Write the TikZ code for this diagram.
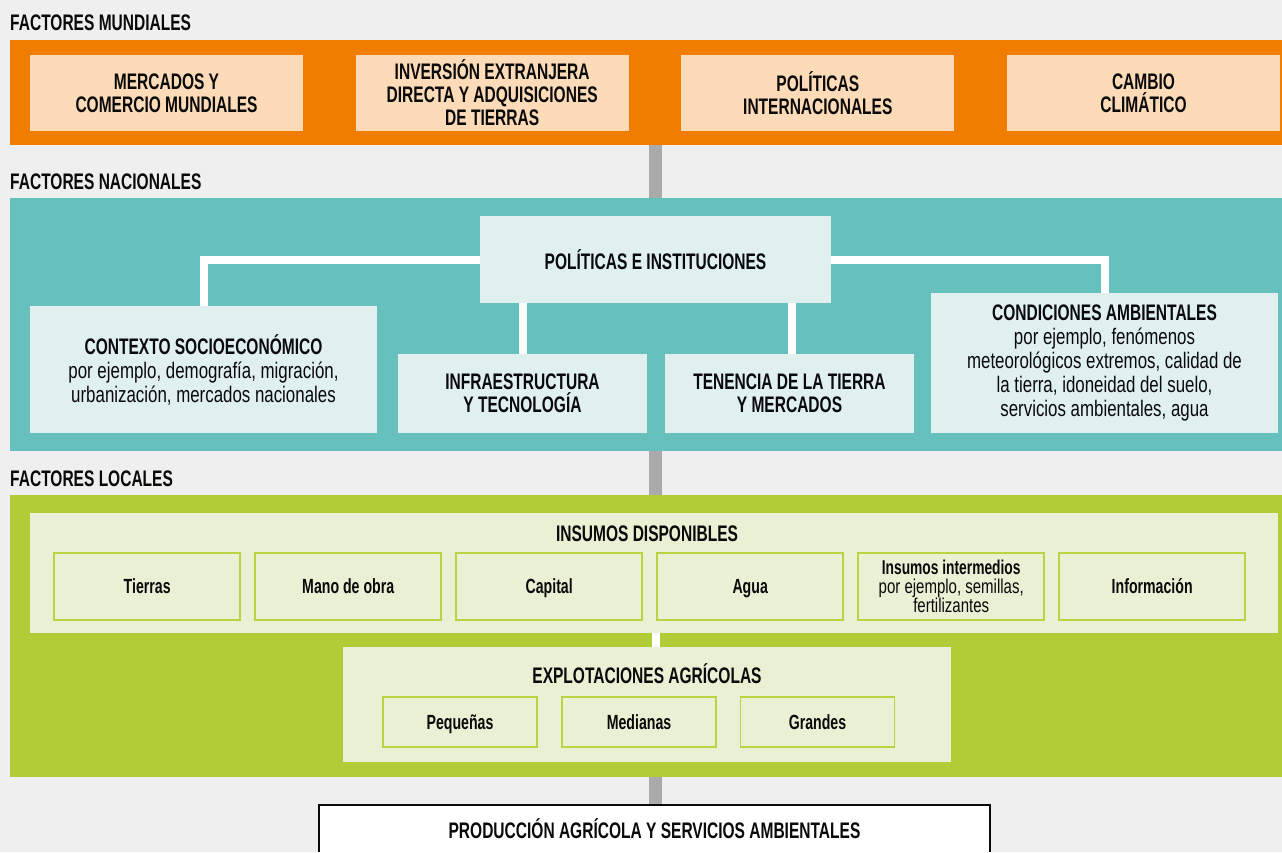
\documentclass[tikz,border=0pt]{standalone}
\usepackage{fontspec}
\setmainfont{Liberation Sans}[FakeStretch=0.69]
\newfontfamily\bodyfont{Liberation Sans}[FakeStretch=0.75]
\usepackage{xcolor}
\usepackage{tikz}
\usetikzlibrary{calc, positioning}
\pgfdeclarelayer{background}
\pgfsetlayers{background,main}

\definecolor{paper}{HTML}{EFEFEF}
\definecolor{naranja}{HTML}{F07D00}
\definecolor{naranjaclaro}{HTML}{FDDBB8}
\definecolor{turquesa}{HTML}{66C0BE}
\definecolor{turquesaclaro}{HTML}{E0F0EF}
\definecolor{verde}{HTML}{B0CD37}
\definecolor{verdeclaro}{HTML}{EAF0D4}
\definecolor{verdeborde}{HTML}{B7D442}
\definecolor{gris}{HTML}{AAAAAA}
\definecolor{tinta}{HTML}{0A0A0A}

\newcommand{\cabfont}{\fontsize{22.5}{23}\selectfont\rmfamily\bfseries}
\newcommand{\cuerpofont}{\fontsize{22.5}{24}\selectfont\bodyfont}
\newcommand{\chicafont}{\fontsize{20.5}{19}\selectfont\rmfamily\bfseries}
\newcommand{\chicacuerpo}{\fontsize{20}{19}\selectfont\bodyfont}

\tikzstyle{franja}   = [rectangle, inner sep=0pt, minimum width=1272pt]
\tikzstyle{etiqueta} = [inner sep=0pt, anchor=base west, text=tinta, font=\cabfont]
\tikzstyle{mundial}  = [rectangle, inner sep=0pt, minimum width=273pt, minimum height=76pt, align=center, fill=naranjaclaro, text=tinta, font=\cabfont]
\tikzstyle{nacional} = [rectangle, inner sep=0pt, align=center, fill=turquesaclaro, text=tinta, font=\cabfont]
\tikzstyle{panel}    = [rectangle, inner sep=0pt, fill=verdeclaro]
\tikzstyle{titulo}   = [inner sep=0pt, text=tinta, font=\cabfont]
\tikzstyle{insumo}   = [rectangle, inner sep=0pt, minimum width=186pt, minimum height=67pt, align=center, draw=verdeborde, line width=1.5pt, fill=verdeclaro, text=tinta, font=\chicafont]
\tikzstyle{unalinea} = [text height=14.7pt, text depth=0pt]
\tikzstyle{finca}    = [insumo, unalinea, minimum width=154pt, minimum height=50pt]
\tikzstyle{conector} = [draw=gris, line width=13pt]
\tikzstyle{enlace}   = [draw=white, line width=8pt]

\begin{document}
\begin{tikzpicture}[x=1pt, y=-1pt]
    \useasboundingbox (0,0) rectangle (1282,852);

    % franjas de fondo
    \node (mund) [franja, fill=naranja,  minimum height=105pt] at (646,92.5) {};
    \node (nac)  [franja, fill=turquesa, minimum height=253pt] at (646,324.5) {};
    \node (loc)  [franja, fill=verde,    minimum height=282pt] at (646,636) {};

    \node (lmund) [etiqueta] at (10,30.5) {FACTORES MUNDIALES};
    \node (lnac)  [etiqueta] at (10,189) {FACTORES NACIONALES};
    \node (lloc)  [etiqueta] at (10,486) {FACTORES LOCALES};

    % factores mundiales
    \node (merc) [mundial] at (166.5,93) {MERCADOS Y\\COMERCIO MUNDIALES};
    \node (inv)  [mundial] at (492.2,93) {INVERSIÓN EXTRANJERA\\DIRECTA Y ADQUISICIONES\\DE TIERRAS};
    \node (polint) [mundial] at (817.8,93) {POLÍTICAS\\INTERNACIONALES};
    \node (clima) [mundial] at (1143.5,93) {CAMBIO\\CLIMÁTICO};

    % factores nacionales
    \node (pol)   [nacional, minimum width=351pt, minimum height=87pt] at (655.5,259.5) {POLÍTICAS E INSTITUCIONES};
    \node (ctx)   [nacional, minimum width=347pt, minimum height=127pt, font=\cuerpofont] at (203.5,369.5)
        {{\rmfamily\bfseries CONTEXTO SOCIOECONÓMICO}\\por ejemplo, demografía, migración,\\urbanización, mercados nacionales};
    \node (infra) [nacional, minimum width=249pt, minimum height=79pt] at (522.5,393.5) {INFRAESTRUCTURA\\Y TECNOLOGÍA};
    \node (ten)   [nacional, minimum width=249pt, minimum height=79pt] at (789.5,393.5) {TENENCIA DE LA TIERRA\\Y MERCADOS};
    \node (amb)   [nacional, minimum width=347pt, minimum height=140pt, font=\cuerpofont] at (1104.5,363)
        {{\rmfamily\bfseries CONDICIONES AMBIENTALES}\\por ejemplo, fenómenos\\meteorológicos extremos, calidad de\\la tierra, idoneidad del suelo,\\servicios ambientales, agua};

    \draw [enlace] (ctx.north) |- (pol.west);
    \draw [enlace] (pol.east) -| (amb.north);
    \draw [enlace] (infra.north) -- (infra.north |- pol.south);
    \draw [enlace] (ten.north |- pol.south) ++(2.5,0) -- ++(0,51);

    % factores locales
    \node (ins)  [panel, minimum width=1248pt, minimum height=120pt] at (654,573) {};
    \node (insT) [titulo] at (647,534) {INSUMOS DISPONIBLES};
    \node (tie)  [insumo, unalinea] at (147.2,586.5) {Tierras};
    \node (mano) [insumo, unalinea] at (348.2,586.5) {Mano de obra};
    \node (cap)  [insumo, unalinea] at (549.2,586.5) {Capital};
    \node (agua) [insumo, unalinea] at (750.2,586.5) {Agua};
    \node (inter) [insumo, font=\chicacuerpo] at (951.2,586.5) {{\rmfamily\bfseries Insumos intermedios}\\por ejemplo, semillas,\\fertilizantes};
    \node (info) [insumo, unalinea] at (1152.2,586.5) {Información};

    \node (exp)  [panel, minimum width=608pt, minimum height=115pt] at (647,704.5) {};
    \node (expT) [titulo] at (647,673.5) {EXPLOTACIONES AGRÍCOLAS};
    \node (peq)  [finca] at (460,722) {Pequeñas};
    \node (med)  [finca] at (639,722) {Medianas};
    \node (gra)  [finca] at (817.5,722) {Grandes};

    \draw [enlace] (ins.south -| pol) -- (exp.north -| pol);

    % resultado
    \node (prod) [rectangle, inner sep=0pt, fill=white, minimum width=671pt, minimum height=47pt, text=tinta, font=\cabfont] at (654.5,828.5) {PRODUCCIÓN AGRÍCOLA Y SERVICIOS AMBIENTALES};
    \draw [tinta, line width=2.5pt] (prod.south west) -- (prod.north west) -- (prod.north east) -- (prod.south east);

    \begin{pgfonlayer}{background}
      \fill [paper] (0,0) rectangle (1282,852);
      \draw [conector] (pol |- mund.south) -- (pol |- nac.north);
      \draw [conector] (pol |- nac.south) -- (pol |- loc.north);
      \draw [conector] (pol |- loc.south) -- (pol |- prod.north);
    \end{pgfonlayer}

\end{tikzpicture}
\end{document}
